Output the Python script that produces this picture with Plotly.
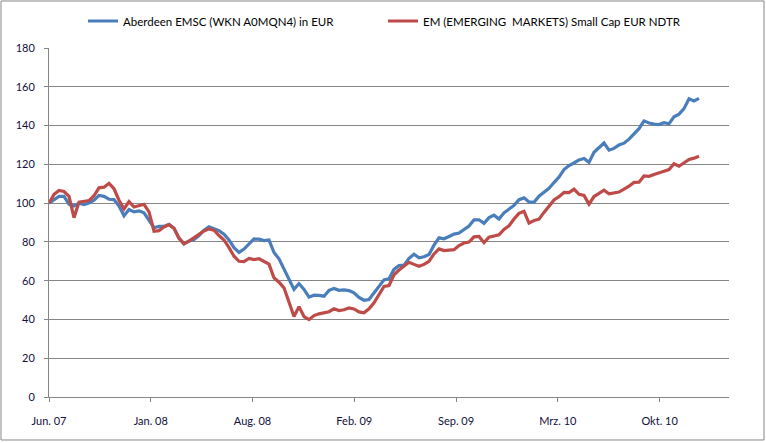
import numpy as np
import pandas as pd
import plotly.graph_objects as go

# ---- data (sampled every 10 days from 1 Jun 2007) ----
start_date = "2007-06-01"
step_days = 10

aberdeen = [
    100, 102, 103.5, 103.5, 99.5, 98.5, 100, 99.3, 100, 101.5,
    104, 103.5, 102, 101.8, 98.5, 93.5, 96.7, 95.5, 96, 95,
    91, 87.3, 88, 88, 89, 87, 82, 79, 80.5, 81.2,
    83.3, 86, 87.8, 87, 85.8, 84, 81, 77, 74.6, 76.3,
    79.2, 81.5, 81.4, 80.7, 81, 74.5, 71.3, 66, 60.3, 55.5,
    58.5, 55.5, 51.5, 52.5, 52.4, 52, 55, 56, 55, 55.2,
    54.9, 53.7, 51.4, 49.9, 50.3, 53.5, 57.3, 60.4, 61, 65.8,
    67.8, 68, 71.5, 73.6, 71.8, 72.3, 73.5, 78.3, 82.1, 81.6,
    82.8, 84, 84.6, 86.3, 88.2, 91.4, 91.4, 89.6, 92.5, 93.8,
    91.8, 95, 97.1, 98.8, 101.8, 102.7, 100.6, 100.4, 103.6, 105.5,
    107.6, 110.6, 113.4, 117.3, 119.4, 120.7, 122.3, 123, 121, 126.2,
    128.7, 131, 127.3, 128.2, 130, 130.9, 133, 136, 138.4, 142.4,
    141.3, 140.8, 140.5, 141.5, 140.9, 144.5, 145.9, 148.7, 153.8, 152.7,
    154,
]

em_small_cap = [
    100, 104.5, 106.5, 106, 103.5, 92.5, 100.5, 101, 101.3, 103.8,
    107.9, 108.2, 110.2, 107.4, 101.5, 97, 100.8, 98, 98.5, 99.4,
    95.5, 85.5, 85.8, 87.7, 88.9, 87, 81.8, 79, 80.4, 82.3,
    83.7, 85.6, 86.7, 86, 83.3, 81, 77, 72.6, 70, 69.8,
    71.5, 70.9, 71.3, 70, 68.5, 61.5, 59.2, 56.3, 48.6, 41.5,
    46.6, 41.5, 39.9, 42, 42.9, 43.5, 44, 45.5, 44.6, 45,
    45.9, 45.4, 43.9, 43.4, 45.5, 48.6, 53, 57, 57.5, 63,
    65.5, 67.4, 69.5, 68.4, 67.4, 68.4, 70, 73.8, 76.4, 75.5,
    75.9, 76, 78.1, 79.4, 79.9, 82.6, 82.8, 79.6, 82.4, 83.2,
    83.6, 86.4, 88.3, 91.8, 94.7, 95.8, 89.7, 91, 91.7, 95.2,
    98.1, 101.6, 103.3, 105.5, 105.4, 107.2, 104.5, 104, 99.5, 103.4,
    105, 106.7, 104.8, 105.3, 105.7, 107.2, 108.7, 110.7, 110.8, 114,
    113.8, 114.7, 115.4, 116.4, 117.3, 120.3, 119, 121, 122.5, 123.2,
    124.2,
]

series_names = [
    "Aberdeen EMSC (WKN A0MQN4) in EUR",
    "EM (EMERGING  MARKETS) Small Cap EUR NDTR",
]
tick_labels = ["Jun. 07", "Jan. 08", "Aug. 08", "Feb. 09", "Sep. 09", "Mrz. 10", "Okt. 10"]

# ---- build figure ----
t0 = pd.Timestamp(start_date)


def dates_for(values):
    return [t0 + pd.Timedelta(days=step_days * i) for i in range(len(values))]


fig = go.Figure()
fig.add_trace(go.Scatter(
    x=dates_for(aberdeen), y=aberdeen, mode="lines", name=series_names[0],
    line=dict(color="#4A7EBB", width=3.2),
))
fig.add_trace(go.Scatter(
    x=dates_for(em_small_cap), y=em_small_cap, mode="lines", name=series_names[1],
    line=dict(color="#BE4B48", width=3.2),
))

tick_spacing_days = 203.54
tickvals = [t0 + pd.Timedelta(days=tick_spacing_days * i) for i in range(len(tick_labels))]
x_end = t0 + pd.Timedelta(days=1360)

font_family = "Lato, 'Open Sans', sans-serif"
grid_col = "#868686"

fig.update_layout(
    width=766, height=443,
    margin=dict(l=49, r=37, t=48, b=46, autoexpand=False),
    paper_bgcolor="white", plot_bgcolor="white",
    font=dict(family=font_family, size=11, color="black"),
    showlegend=True,
    legend=dict(
        orientation="h", xref="container", yref="container",
        x=83 / 766, xanchor="left", y=1 - 21 / 443, yanchor="middle",
        font=dict(size=11.5), itemwidth=30, entrywidth=255, tracegroupgap=0,
        bgcolor="rgba(0,0,0,0)",
    ),
    xaxis=dict(
        type="date", range=[t0, x_end],
        tickvals=tickvals, ticktext=tick_labels,
        showgrid=False, zeroline=False,
        showline=True, linecolor=grid_col, linewidth=1,
        ticks="outside", ticklen=4, tickcolor=grid_col,
        ticklabelstandoff=10,
        tickfont=dict(size=11, color="#10103a"),
    ),
    yaxis=dict(
        range=[0, 180], dtick=20, tick0=0,
        showgrid=True, gridcolor=grid_col, gridwidth=1,
        zeroline=False,
        showline=True, linecolor=grid_col, linewidth=1,
        ticks="outside", ticklen=4, tickcolor=grid_col,
        ticklabelstandoff=7,
        tickfont=dict(size=11, color="#10103a"),
    ),
    shapes=[dict(
        type="rect", xref="paper", yref="paper",
        x0=-0.0706, x1=1.0515, y0=-0.1232, y1=1.1347,
        line=dict(color="#868686", width=1), fillcolor="rgba(0,0,0,0)",
        layer="below",
    )],
)

fig.write_html(
    "out.html",
    config={"displayModeBar": False},
    post_script="document.body.style.margin='0';document.body.style.overflow='hidden';",
)
